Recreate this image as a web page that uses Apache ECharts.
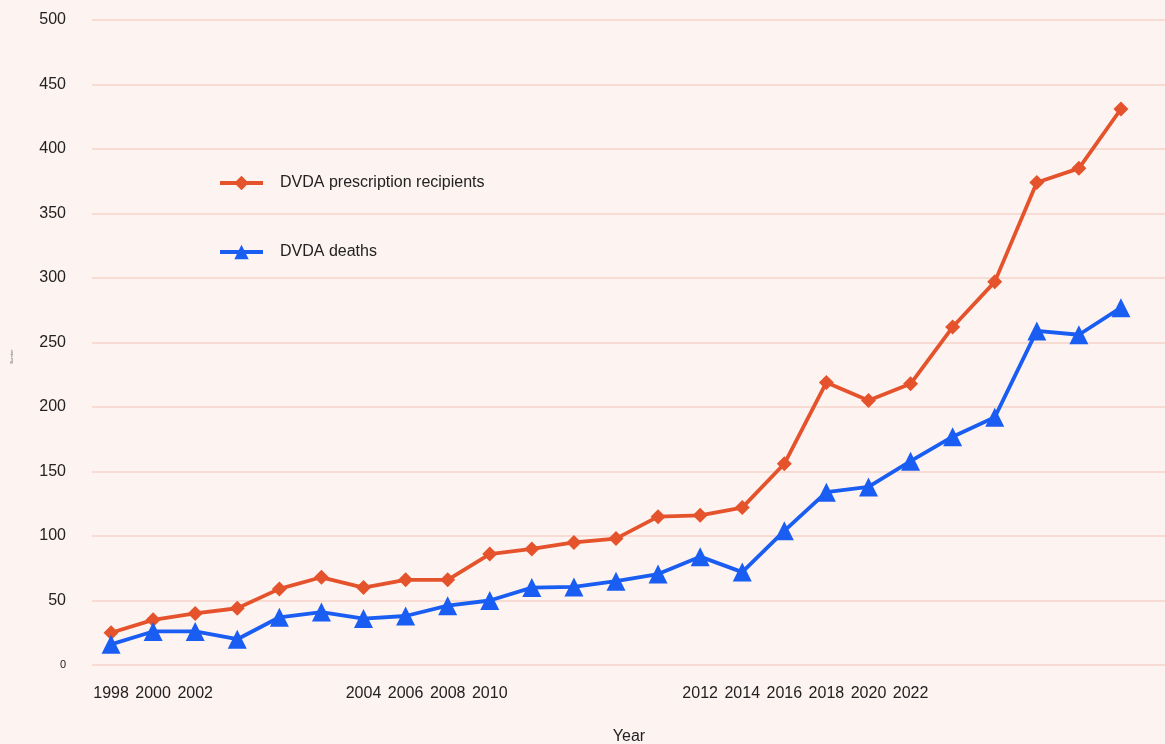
<!DOCTYPE html>
<html>
<head>
<meta charset="utf-8">
<script src="https://cdn.jsdelivr.net/npm/echarts@6/dist/echarts.min.js"></script>
<style>
html,body{margin:0;padding:0;background:#fdf3f0;}
#chart{width:1165px;height:744px;}
</style>
</head>
<body>
<div id="chart"></div>
<script>
var categories = ["1998","2000","2002","","","","2004","2006","2008","2010","","","","","2012","2014","2016","2018","2020","2022","","","","",""];
var recipients = [25,35,40,44,59,68,60,66,66,86,90,95,98,115,116,122,156,219,205,218,262,297,374,385,431];
var deaths = [16,26,26,20,37,41,36,38,46,50,60,60.5,65,70.5,84,72,104,134,138,158,177,192,259,256,277];
var yTicks = [0,50,100,150,200,250,300,350,400,450,500];

var chart = echarts.init(document.getElementById('chart'));
var font = 'Liberation Sans, Arial, sans-serif';
chart.setOption({
  backgroundColor: '#fdf3f0',
  animation: false,
  textStyle: {fontFamily: font},
  legend: {
    orient: 'vertical',
    left: 213,
    top: 170,
    itemWidth: 43,
    itemHeight: 18,
    itemGap: 53,
    lineStyle: {width: 4},
    textStyle: {fontSize: 16, color: '#222', fontFamily: font, padding: [0,0,0,12]},
    data: ['DVDA prescription recipients', 'DVDA deaths']
  },
  grid: [
    {left: 92, right: 0, top: 20, bottom: 79, containLabel: false, outerBoundsMode: 'none'},
    {left: 90, width: 1052, top: 20, bottom: 79, containLabel: false, outerBoundsMode: 'none'}
  ],
  xAxis: [
    {gridIndex: 0, type: 'category', data: categories, show: false},
    {
      gridIndex: 1, type: 'category', data: categories, boundaryGap: true,
      axisLine: {show: false}, axisTick: {show: false},
      axisLabel: {interval: 0, fontSize: 16, color: '#222', margin: 21, fontFamily: font},
      name: 'Year', nameLocation: 'middle', nameGap: 64,
      nameTextStyle: {fontSize: 16, color: '#222', fontFamily: font, padding: [0,0,0,26]}
    }
  ],
  yAxis: [
    {
      gridIndex: 0, type: 'value', min: 0, max: 500, interval: 50,
      axisLine: {show: false}, axisTick: {show: false},
      axisLabel: {
        fontSize: 16, color: '#222', margin: 26, fontFamily: font,
        customValues: yTicks,
        formatter: function (v) { return v === 0 ? '{s|0}' : String(v); },
        rich: {s: {fontSize: 11, color: '#222', fontFamily: font}}
      },
      splitLine: {show: true, lineStyle: {color: '#f6d3c8', width: 1.5}},
      name: 'Number', nameLocation: 'middle', nameGap: 78, nameRotate: 90,
      nameTextStyle: {fontSize: 4, color: '#666', fontFamily: font, padding: [0,0,0,-28]}
    },
    {
      gridIndex: 1, type: 'value', min: 0, max: 500, interval: 50,
      show: false, splitLine: {show: false}
    }
  ],
  series: [
    {
      name: 'DVDA prescription recipients', type: 'line',
      xAxisIndex: 1, yAxisIndex: 1, data: recipients,
      symbol: 'diamond', symbolSize: 15,
      lineStyle: {color: '#e4532c', width: 3.8},
      itemStyle: {color: '#e4532c'}
    },
    {
      name: 'DVDA deaths', type: 'line',
      xAxisIndex: 1, yAxisIndex: 1, data: deaths,
      symbol: 'triangle', symbolSize: 19,
      lineStyle: {color: '#1a5df2', width: 3.8},
      itemStyle: {color: '#1a5df2'}
    }
  ]
});
</script>
</body>
</html>
